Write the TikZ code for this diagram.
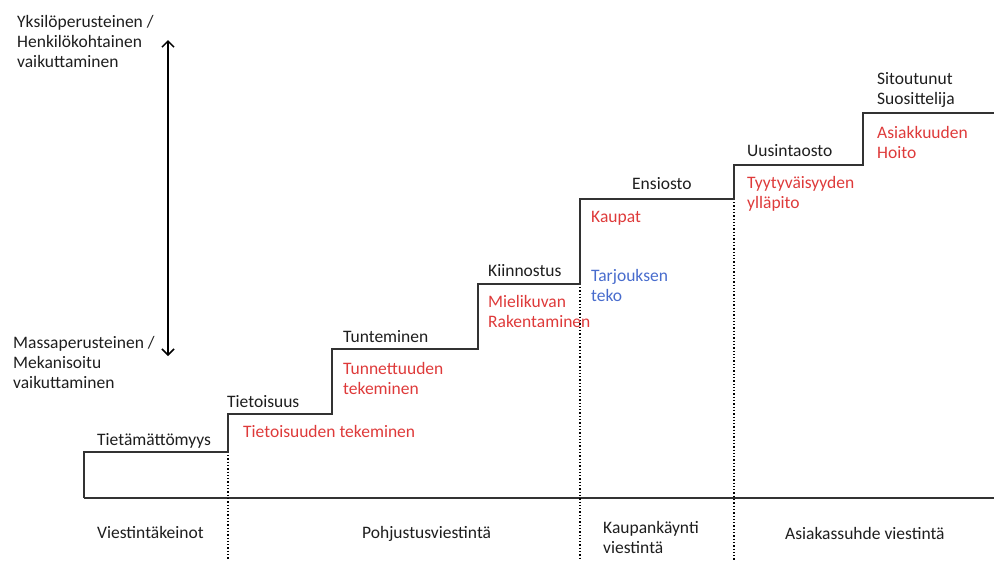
\documentclass[tikz,border=0pt]{standalone}
\usepackage{fontspec}
\setmainfont{Carlito}
\usetikzlibrary{arrows.meta}
\definecolor{redtxt}{RGB}{222,58,58}
\definecolor{bluetxt}{RGB}{72,108,205}
\definecolor{txt}{RGB}{30,30,30}
\definecolor{stair}{RGB}{50,50,50}
\begin{document}
\begin{tikzpicture}[x=1pt,y=-1pt,
  lbl/.style={anchor=base west,inner sep=0pt,align=left,text=txt,
    font=\fontsize{17.5pt}{20pt}\selectfont},
  act/.style={lbl,text=redtxt},
  offer/.style={lbl,text=bluetxt},
  stairline/.style={draw=stair,line width=2pt,line join=miter},
  sep/.style={draw=black,dotted,line width=1.3pt},
  axis/.style={draw=black,line width=1.5pt,{Straight Barb[length=6pt,width=12pt]}-{Straight Barb[length=6pt,width=12pt]}}]
\useasboundingbox (0,0) rectangle (994,560);
% staircase
\draw[stairline] (84,498) -- (84,452) -- (228,452) -- (228,414) -- (332,414) -- (332,349)
  -- (478,349) -- (478,284) -- (580,284) -- (580,199) -- (734,199) -- (734,165)
  -- (863,165) -- (863,113) -- (994,113);
\draw[stairline] (84,498) -- (994,498);
% dotted separators
\draw[sep] (228,455) -- (228,560);
\draw[sep] (580,287) -- (580,560);
\draw[sep] (734,202) -- (734,560);
% vertical axis
\coordinate (atop) at (168,40);
\coordinate (abot) at (168,356);
\draw[axis] (atop) -- (abot);
\node[lbl] (yks) at (17,67.5) {Yksilöperusteinen /\\Henkilökohtainen\\vaikuttaminen};
\node[lbl] (mas) at (13,388.5) {Massaperusteinen /\\Mekanisoitu\\vaikuttaminen};
% stages
\node[lbl] (s1) at (97,445.5) {Tietämättömyys};
\node[lbl] (s2) at (227,407.5) {Tietoisuus};
\node[lbl] (s3) at (343,342.5) {Tunteminen};
\node[lbl] (s4) at (488,276.5) {Kiinnostus};
\node[lbl] (s5) at (632,189.5) {Ensiosto};
\node[lbl] (s6) at (747,156.5) {Uusintaosto};
\node[lbl] (s7) at (877,104.5) {Sitoutunut\\Suosittelija};
% actions
\node[act] (a2) at (243,437.5) {Tietoisuuden tekeminen};
\node[act] (a3) at (343,394.5) {Tunnettuuden\\tekeminen};
\node[act] (a4) at (488,327.5) {Mielikuvan\\Rakentaminen};
\node[act] (a5) at (591,222.5) {Kaupat};
\node[offer] (a5b) at (591,301.5) {Tarjouksen\\teko};
\node[act] (a6) at (747,208.5) {Tyytyväisyyden\\ylläpito};
\node[act] (a7) at (877,158.5) {Asiakkuuden\\Hoito};
% bottom categories
\node[lbl] (c1) at (97,538.5) {Viestintäkeinot};
\node[lbl] (c2) at (362,538.5) {Pohjustusviestintä};
\node[lbl] (c3) at (603,553.5) {Kaupankäynti\\viestintä};
\node[lbl] (c4) at (785,539.5) {Asiakassuhde viestintä};
\end{tikzpicture}
\end{document}
